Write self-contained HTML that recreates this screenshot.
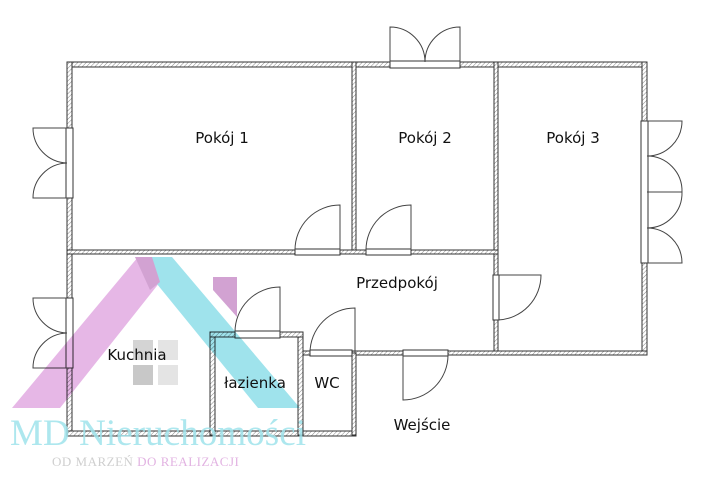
<!DOCTYPE html>
<html><head><meta charset="utf-8"><style>
html,body{margin:0;padding:0;background:#fff;width:710px;height:480px;overflow:hidden}
svg{display:block}
text{font-family:"DejaVu Sans","Liberation Sans",sans-serif;font-size:15px;fill:#111}
</style></head><body>
<svg width="710" height="480" viewBox="0 0 710 480" xmlns="http://www.w3.org/2000/svg">
<defs>
<pattern id="h" width="3" height="3" patternUnits="userSpaceOnUse" patternTransform="rotate(45)">
<rect width="3" height="3" fill="#fff"/><line x1="0" y1="0" x2="0" y2="3" stroke="#888" stroke-width="1"/>
</pattern>
</defs>
<g fill="url(#h)" stroke="#333" stroke-width="1">
<rect x="67" y="62" width="580" height="5"/>
<rect x="642" y="62" width="5" height="293"/>
<rect x="67" y="62" width="5" height="373"/>
<rect x="67" y="431" width="289" height="5"/>
<rect x="352" y="62" width="4" height="192"/>
<rect x="494" y="62" width="4" height="293"/>
<rect x="67" y="250" width="431" height="4"/>
<rect x="300" y="351" width="347" height="4"/>
<rect x="352" y="353" width="4" height="82"/>
<rect x="210" y="332" width="5" height="103"/>
<rect x="298" y="332" width="5" height="103"/>
<rect x="210" y="332" width="93" height="5"/>
</g>
<g fill="#fff" stroke="#333" stroke-width="1">
<rect x="390" y="61" width="70" height="7"/>
<rect x="66" y="128" width="7" height="70"/>
<rect x="66" y="298" width="7" height="70"/>
<rect x="641" y="121" width="7" height="142"/>
<rect x="295" y="249" width="45" height="6"/>
<rect x="366" y="249" width="45" height="6"/>
<rect x="493" y="275" width="6" height="45"/>
<rect x="235" y="331" width="45" height="7"/>
<rect x="310" y="350" width="42" height="6"/>
<rect x="403" y="350" width="45" height="6"/>
</g>
<g fill="none" stroke="#444" stroke-width="1">
<path d="M390 62V27A35 35 0 0 1 425 62"/>
<path d="M460 62V27A35 35 0 0 0 425 62"/>
<path d="M67 128H33A35 35 0 0 0 67 163"/>
<path d="M67 198H33A35 35 0 0 1 67 163"/>
<path d="M67 298H33A35 35 0 0 0 67 333"/>
<path d="M67 368H33A35 35 0 0 1 67 333"/>
<path d="M647 121H682A35 35 0 0 1 647 156"/>
<path d="M647 192H682A35 35 0 0 0 647 156"/>
<path d="M647 192H682A35 35 0 0 1 647 228"/>
<path d="M647 263H682A35 35 0 0 0 647 228"/>
<path d="M340 250V205A45 45 0 0 0 295 250"/>
<path d="M411 250V205A45 45 0 0 0 366 250"/>
<path d="M498 275H541A45 45 0 0 1 498 320"/>
<path d="M280 332V287A45 45 0 0 0 235 332"/>
<path d="M355 353V308A45 45 0 0 0 310 353"/>
<path d="M403 355V400A45 45 0 0 0 448 355"/>
</g>
<g style="mix-blend-mode:multiply">
<polygon points="12,408 60,408 160,282 138,257" fill="#e6b7e6"/>
<polygon points="135,257 172,257 300,408 258,408" fill="#9fe3ec"/>
<polygon points="135,257 152,257 160,282 150,290" fill="#d2a2d2"/>
<polygon points="213,277 237,277 237,317 213,290" fill="#d2a2d2"/>
<rect x="133" y="340" width="20" height="20" fill="#d4d4d4"/>
<rect x="158" y="340" width="20" height="20" fill="#e4e4e4"/>
<rect x="133" y="365" width="20" height="20" fill="#c8c8c8"/>
<rect x="158" y="365" width="20" height="20" fill="#e4e4e4"/>
</g>
<text x="222" y="143" text-anchor="middle">Pokój 1</text>
<text x="425" y="143" text-anchor="middle">Pokój 2</text>
<text x="573" y="143" text-anchor="middle">Pokój 3</text>
<text x="397" y="288" text-anchor="middle">Przedpokój</text>
<text x="137" y="360" text-anchor="middle">Kuchnia</text>
<text x="255" y="388" text-anchor="middle">łazienka</text>
<text x="327" y="388" text-anchor="middle">WC</text>
<text x="422" y="430" text-anchor="middle">Wejście</text>
<text x="10" y="445" textLength="296" style="font-family:'Liberation Serif',serif;font-size:37px;fill:#9fe3ec;opacity:.85">MD Nieruchomości</text>
<text x="52" y="466" style="font-family:'Liberation Serif',serif;font-size:13px;fill:#cfcfcf;letter-spacing:0.5px">OD MARZEŃ <tspan fill="#e2b3e2">DO REALIZACJI</tspan></text>
</svg>
</body></html>
